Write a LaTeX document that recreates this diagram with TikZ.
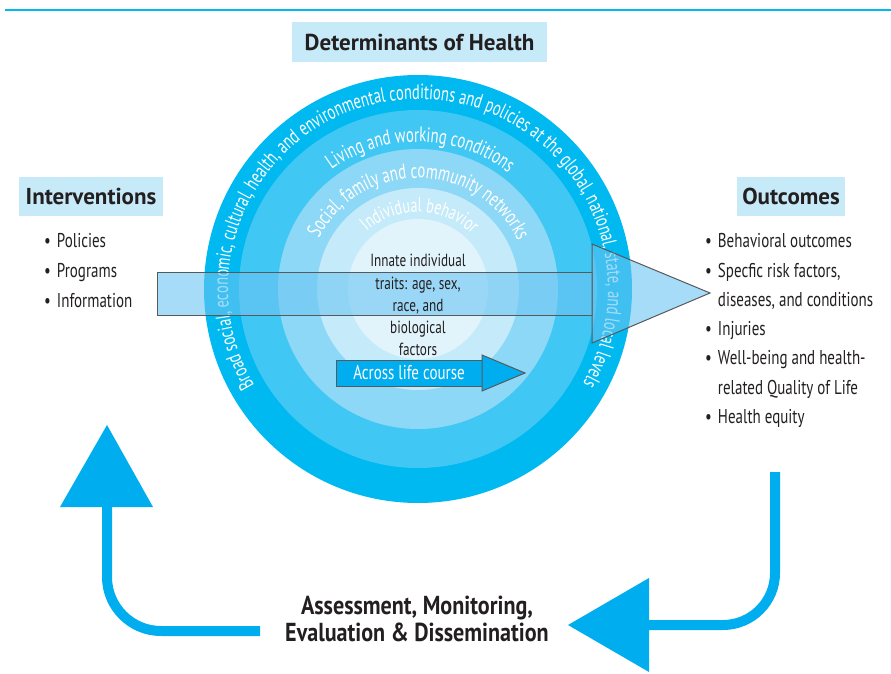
\documentclass[tikz,border=0pt]{standalone}
\usepackage{fontspec}
\setmainfont{PT Sans}
\newfontfamily\condfont{PT Sans}[FakeStretch=0.75]
\newfontfamily\ringfont{PT Sans}[FakeStretch=0.7]
\newfontfamily\boldcond{PT Sans}[FakeStretch=0.85]
\usetikzlibrary{decorations.text}
\definecolor{ringA}{HTML}{00B9F0}
\definecolor{ringB}{HTML}{41C7F3}
\definecolor{ringC}{HTML}{8ED8F7}
\definecolor{ringD}{HTML}{C5EBFA}
\definecolor{ringE}{HTML}{E1F4FC}
\definecolor{loopblue}{HTML}{00AEEF}
\definecolor{headblue}{HTML}{C7EAF9}
\definecolor{arrowblue}{RGB}{107,197,243}
\definecolor{edgegray}{HTML}{58595B}
\definecolor{textdark}{HTML}{231F20}

\begin{document}
\begin{tikzpicture}[x=1pt,y=1pt,
  headbox/.style={fill=headblue, inner sep=0pt, text=textdark,
    font=\bfseries\fontsize{23}{23}\selectfont},
  itemtext/.style={anchor=base west, inner sep=0pt, text=textdark,
    font=\condfont\fontsize{20}{20}\selectfont},
  innertext/.style={anchor=base, inner sep=0pt, text=textdark,
    font=\condfont\fontsize{17.6}{17.6}\selectfont},
  ringtext/.style={decorate, decoration={text along path,
    text align=center, text color=white, text={#1}}},
  bigarrow/.style={draw=edgegray, line width=1pt, fill=arrowblue, fill opacity=0.6},
  lifearrow/.style={draw=edgegray, line width=1pt, fill=loopblue},
  loopshaft/.style={draw=loopblue, line width=10pt},
  looplabel/.style={anchor=base, inner sep=0pt, text=textdark,
    font=\boldcond\bfseries\fontsize{26}{26}\selectfont}]
  \def\cx{418}
  \def\cy{384}

  % Fixed bounding box
  \useasboundingbox (0,0) rectangle (891,673);

  % Top rule
  \draw[ringA, line width=2pt] (5,663) -- (891,663);

  % Headings
  \node[headbox, minimum width=255pt, minimum height=40pt] (determinants) at (419.5,631) {Determinants of Health};
  \node[headbox, minimum width=144pt, minimum height=39pt] (interventions) at (91,476.5) {Interventions};
  \node[headbox, minimum width=108pt, minimum height=39pt] (outcomes) at (791,476.5) {Outcomes};

  % Nested rings
  \fill[ringA] (\cx,\cy) circle[radius=214];
  \fill[ringB] (\cx,\cy) circle[radius=179];
  \fill[ringC] (\cx,\cy) circle[radius=140];
  \fill[ringD] (\cx,\cy) circle[radius=101];
  \fill[ringE] (\cx,\cy) circle[radius=70];

  % Ring labels
  \path[ringtext={|\ringfont\fontsize{20.7}{20.7}\selectfont|Broad social, economic, cultural, health, and environmental conditions and policies at the global, national, state, and local levels}]
    (\cx,\cy) ++(240.4:190) arc[start angle=240.4, end angle=-59.6, radius=190];
  \path[ringtext={|\ringfont\fontsize{21}{21}\selectfont|Living and working conditions}]
    (\cx,\cy) ++(179:147) arc[start angle=179, end angle=-1, radius=147];
  \path[ringtext={|\ringfont\fontsize{21}{21}\selectfont|Social, family and community networks}]
    (\cx,\cy) ++(179.5:111) arc[start angle=179.5, end angle=-0.5, radius=111];
  \path[ringtext={|\ringfont\fontsize{20}{20}\selectfont|Individual behavior}]
    (\cx,\cy) ++(178.6:77) arc[start angle=178.6, end angle=-1.4, radius=77];

  % Interventions to outcomes arrow
  \draw[bigarrow] (157,358) rectangle (592,400);
  \draw[bigarrow] (592,429) -- (710,380) -- (592,330) -- cycle;

  % Innate traits
  \foreach \txt [count=\i] in {Innate individual, {traits: age, sex,}, {race, and}, biological, factors}
    \node[innertext] (innate\i) at (\cx,{406-22*(\i-1)}) {\txt};

  % Life course arrow
  \draw[lifearrow] (336,287) rectangle (482,313);
  \draw[lifearrow] (482,318) -- (525,300) -- (482,282) -- cycle;
  \node[text=white, font=\condfont\fontsize{20}{20}\selectfont] (lifecourse) at (409,300) {Across life course};

  % Bullet lists
  \foreach \txt [count=\i] in {Policies, Programs, Information}
    \node[itemtext] (interv\i) at (44,{425-29.5*(\i-1)}) {\textbullet\hspace{6pt}\txt};
  \foreach \b/\txt [count=\i] in {1/Behavioral outcomes, 1/{Specfic risk factors,}, 0/{diseases, and conditions},
      1/Injuries, 1/Well-being and health-, 0/related Quality of Life, 1/Health equity}
    \node[itemtext] (outc\i) at (705,{425-29.2*(\i-1)}) {\ifnum\b=1 \textbullet\else\phantom{\textbullet}\fi\hspace{6pt}\txt};

  % Feedback loop
  \draw[loopshaft] (260,42) -- (161,42) arc[start angle=270, end angle=180, radius=54] -- (107,167);
  \fill[loopblue] (60,166) -- (107,248) -- (153,166) -- cycle;
  \draw[loopshaft] (775,201) -- (775,100) arc[start angle=0, end angle=-90, radius=52] -- (648,48);
  \fill[loopblue] (649,95) -- (568,48) -- (649,1) -- cycle;

  % Loop label
  \node[looplabel] (assess1) at (417,59) {Assessment, Monitoring,};
  \node[looplabel] (assess2) at (417,32) {Evaluation \& Dissemination};
\end{tikzpicture}
\end{document}
